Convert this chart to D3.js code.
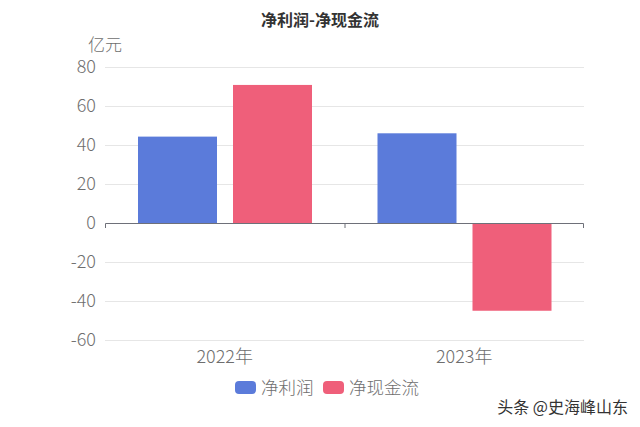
<!DOCTYPE html>
<html><head><meta charset="utf-8">
<script src="https://cdn.jsdelivr.net/npm/d3@7"></script>
<style>body{margin:0;background:#fff}svg{display:block}</style>
</head><body><svg id="c" width="640" height="427"></svg>
<script>
const categories = ["2022年", "2023年"];
const seriesNames = ["净利润", "净现金流"];
const netProfit = [44.3, 46];
const netCashFlow = [70.8, -45];
const yTicks = [-60, -40, -20, 0, 20, 40, 60, 80];
const colors = ["#5B7BDA", "#EF5F7A"];

(function () {
const svg = d3.select("#c");
const font = "'Noto Sans CJK SC', 'Noto Sans', sans-serif";
const pLeft = 105, pRight = 584, pTop = 67, pBottom = 340;

const x = d3.scaleBand().domain(categories).range([pLeft, pRight]).paddingInner(0).paddingOuter(0);
const y = d3.scaleLinear().domain([-60, 80]).range([pBottom, pTop]);
const xs = d3.scaleBand().domain([0, 1]).range([33, 207]).paddingInner(16 / 95).paddingOuter(0);

// grid
svg.append("g").selectAll("line").data(yTicks.filter(d => d !== 0)).join("line")
  .attr("x1", pLeft).attr("x2", pRight).attr("y1", d => y(d) + 0.5).attr("y2", d => y(d) + 0.5)
  .attr("stroke", "#E6E6E6").attr("stroke-width", 1);

// y labels
const yAxis = d3.axisLeft(y).tickValues(yTicks).tickSize(0).tickPadding(9).tickFormat(d => String(d));
const gy = svg.append("g").attr("transform", `translate(${pLeft},0)`).call(yAxis);
gy.select(".domain").remove();
gy.selectAll("text").attr("font-family", font).attr("font-size", 18).attr("font-weight", 300).attr("fill", "#6E6E6E");

// bars
const series = [netProfit, netCashFlow];
series.forEach((vals, si) => {
  svg.append("g").selectAll("rect").data(vals).join("rect")
    .attr("x", (d, i) => x(categories[i]) + xs(si))
    .attr("width", xs.bandwidth())
    .attr("y", d => y(Math.max(0, d)))
    .attr("height", d => Math.abs(y(d) - y(0)))
    .attr("fill", colors[si]);
});

// x axis at zero
const xAxis = d3.axisBottom(x).tickSize(5).tickSizeOuter(5).tickFormat(() => "");
const gx = svg.append("g").attr("transform", `translate(0,${y(0)})`).call(xAxis);
gx.select(".domain").attr("stroke", "#6E7079").attr("d", `M${pLeft + 0.5},5V0.5H${pRight - 0.5}V5`);
gx.selectAll(".tick").remove();
gx.append("line").attr("x1", x("2023年") + 0.5).attr("x2", x("2023年") + 0.5).attr("y1", 0).attr("y2", 5).attr("stroke", "#6E7079");

// x labels
svg.append("g").selectAll("text").data(categories).join("text")
  .attr("x", d => x(d) + x.bandwidth() / 2).attr("y", 363)
  .attr("text-anchor", "middle").attr("font-family", font).attr("font-size", 18).attr("font-weight", 300).attr("fill", "#6E6E6E")
  .text(d => d);

// title
svg.append("text").attr("x", 320).attr("y", 26).attr("text-anchor", "middle")
  .attr("font-family", font).attr("font-size", 16).attr("font-weight", "bold").attr("fill", "#333")
  .text("净利润-净现金流");

// unit
svg.append("text").attr("x", 105).attr("y", 51).attr("text-anchor", "middle")
  .attr("font-family", font).attr("font-size", 17).attr("font-weight", 300).attr("fill", "#6E6E6E").text("亿元");

// legend
const legendX = [235, 323];
seriesNames.forEach((n, i) => {
  svg.append("rect").attr("x", legendX[i]).attr("y", 381).attr("width", 21).attr("height", 13)
    .attr("rx", 4).attr("fill", colors[i]);
  svg.append("text").attr("x", legendX[i] + 26).attr("y", 394).attr("font-family", font)
    .attr("font-size", 17.5).attr("font-weight", 300).attr("fill", "#6E6E6E").text(n);
});

// watermark
svg.append("text").attr("x", 628).attr("y", 413).attr("text-anchor", "end")
  .attr("font-family", font).attr("font-size", 16).attr("fill", "#333")
  .attr("stroke", "#fff").attr("stroke-width", 2).attr("paint-order", "stroke")
  .text("头条 @史海峰山东");
})();
</script></body></html>
